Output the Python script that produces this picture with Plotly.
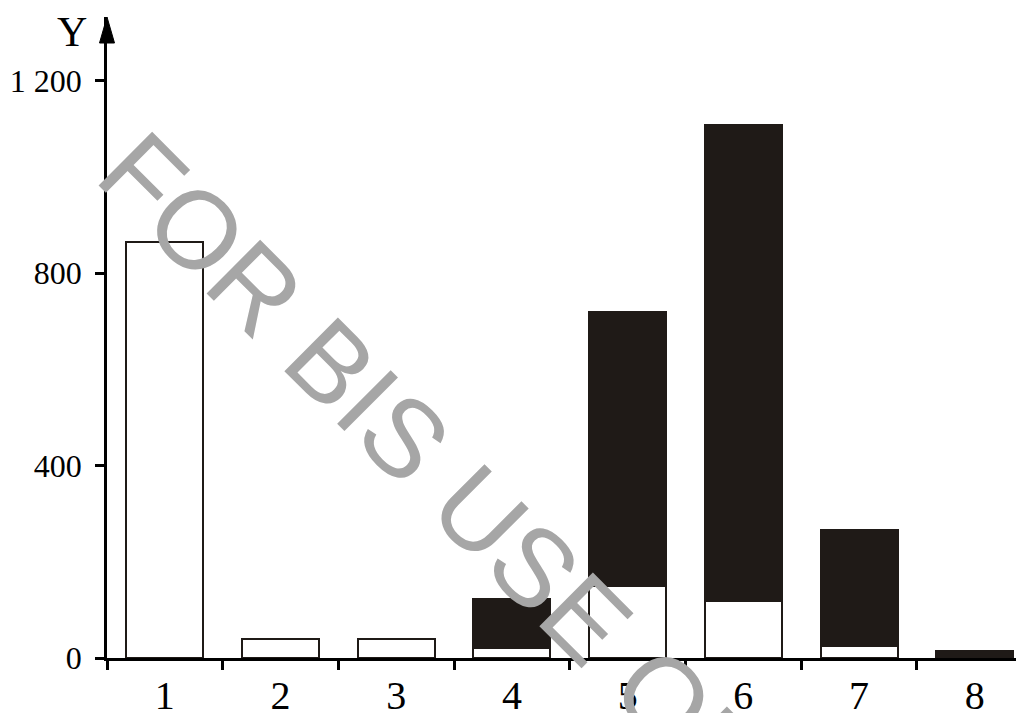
import plotly.graph_objects as go

# ---- data ----
categories = [1, 2, 3, 4, 5, 6, 7, 8]
tick_labels = ["1", "2", "3", "4", "5", "6", "7", "8"]
white_values = [865, 40, 40, 20, 150, 118, 25, 0]      # lower (white) part
black_values = [0, 0, 0, 102, 568, 990, 240, 15]       # upper (black) part
boundary_ticks = [0.5, 1.5, 2.5, 3.5, 4.5, 5.5, 6.5, 7.5]
y_tick_values = [0, 400, 800, 1200]
y_tick_labels = ["0", "400", "800", "1 200"]
axis_title = "Y"
watermark = "FOR BIS USE ONLY"

DARK = "#1f1a17"
SERIF = "Liberation Serif"

fig = go.Figure()
fig.add_bar(
    x=categories, y=white_values, width=0.665,
    marker=dict(color="white", line=dict(color=DARK, width=2)),
    hoverinfo="skip",
)
fig.add_bar(
    x=categories, y=black_values, width=0.665,
    marker=dict(color=DARK, line=dict(color=DARK, width=2)),
    hoverinfo="skip",
)

fig.update_layout(
    barmode="stack",
    width=1016, height=705,
    margin=dict(l=99, r=0, t=9, b=55),
    plot_bgcolor="white", paper_bgcolor="white",
    showlegend=False,
)

fig.update_xaxes(
    range=[0.5, 0.5 + 917 / 115.7],
    tickmode="array", tickvals=categories, ticktext=tick_labels,
    ticks="", ticklabelstandoff=0, automargin=False,
    tickfont=dict(family=SERIF, size=40, color="black"),
    showline=True, linecolor="black", linewidth=2.5,
    showgrid=False, zeroline=False,
    minor=dict(tickmode="array", tickvals=boundary_ticks, ticks="outside",
               ticklen=9, tickwidth=2.5, tickcolor="black", showgrid=False),
)
fig.update_yaxes(
    range=[0, 641 / 0.48125],
    tickmode="array", tickvals=y_tick_values, ticktext=y_tick_labels,
    ticks="outside", ticklen=9, tickwidth=2.5, tickcolor="black",
    ticklabelstandoff=7, automargin=False,
    tickfont=dict(family=SERIF, size=32, color="black"),
    showline=True, linecolor="black", linewidth=2.5,
    showgrid=False, zeroline=False,
)

# arrow head on top of the Y axis
fig.add_shape(
    type="path", xref="paper", yref="paper",
    xsizemode="pixel", ysizemode="pixel", xanchor=0, yanchor=1,
    path="M -7.5 -26 L 7.5 -26 L 0 0 Z",
    fillcolor="black", line=dict(color="black", width=1),
)

fig.add_annotation(
    text=axis_title, xref="paper", yref="paper", x=0, y=1,
    xshift=-35, yshift=-15, xanchor="center", yanchor="middle",
    showarrow=False, font=dict(family=SERIF, size=42, color="black"),
)

fig.add_annotation(
    text=watermark, xref="paper", yref="paper", x=0.4057, y=0.2278,
    xanchor="center", yanchor="middle", textangle=45,
    showarrow=False, font=dict(family="Liberation Sans", size=110, color="#a6a6a6"),
)

fig.write_html("out.html")
